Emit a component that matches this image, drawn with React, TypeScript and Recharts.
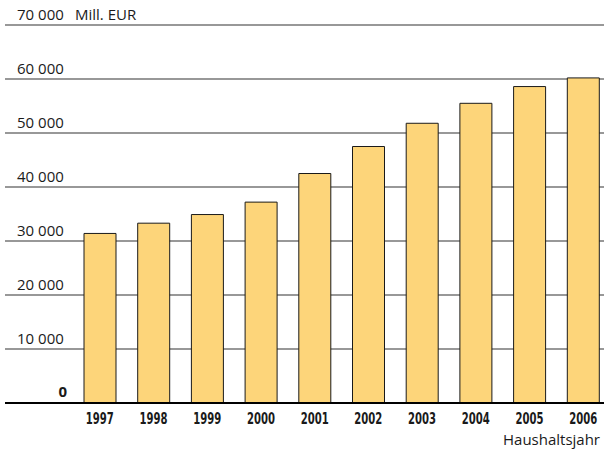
import React from 'react';
import { BarChart, Bar, XAxis, YAxis, CartesianGrid, Label } from 'recharts';

const years = ['1997', '1998', '1999', '2000', '2001', '2002', '2003', '2004', '2005', '2006'];
const spending = [31400, 33300, 34900, 37200, 42500, 47500, 51800, 55500, 58600, 60200];
const yTicks = [0, 10000, 20000, 30000, 40000, 50000, 60000, 70000];
const unitLabel = 'Mill. EUR';
const xAxisTitle = 'Haushaltsjahr';

const data = years.map((y, i) => ({ year: y, value: spending[i] }));

const fmt = (v: number) => {
  if (v === 0) return '0';
  const s = String(v);
  return s.slice(0, s.length - 3) + ' ' + s.slice(s.length - 3);
};

const YTick = (props: any) => {
  const { y, payload } = props;
  const v = payload.value as number;
  if (v === 0) {
    return (
      <text x={67} y={y - 6} textAnchor="end" fontFamily="Open Sans" fontWeight={700} fontSize={15} fill="#1a1a1a">
        0
      </text>
    );
  }
  return (
    <g>
      <text x={17} y={y - 5} textAnchor="start" fontFamily="Open Sans" fontSize={15} fill="#1a1a1a">
        {fmt(v)}
      </text>
      {v === 70000 && (
        <text x={75} y={y - 5} textAnchor="start" fontFamily="Open Sans" fontSize={15} fill="#1a1a1a">
          {unitLabel}
        </text>
      )}
    </g>
  );
};

const XTick = (props: any) => {
  const { x, payload } = props;
  return (
    <text
      x={x}
      y={424}
      textAnchor="middle"
      fontFamily="'DejaVu Sans Condensed', 'DejaVu Sans', sans-serif"
      fontWeight={700}
      fontSize={15.5}
      textLength={28}
      lengthAdjust="spacingAndGlyphs"
      fill="#1a1a1a"
    >
      {payload.value}
    </text>
  );
};

export default function App() {
  return (
    <div style={{ position: 'absolute', left: 0, top: 0, width: 604, height: 449, overflow: 'hidden', background: '#fff' }}>
      <BarChart width={610} height={449} data={data} margin={{ top: 25, right: 0, bottom: 0, left: 4 }}>
        <CartesianGrid horizontal vertical={false} stroke="#767676" strokeWidth={1.6} />
        <YAxis
          width={1}
          domain={[0, 70000]}
          ticks={yTicks}
          axisLine={false}
          tickLine={false}
          tick={<YTick />}
          interval={0}
        />
        <XAxis
          dataKey="year"
          height={46}
          padding={{ left: 68, right: 0 }}
          axisLine={{ stroke: '#000', strokeWidth: 2 }}
          tickLine={false}
          tick={<XTick />}
          interval={0}
        >
          <Label
            content={() => (
              <text x={600} y={445} textAnchor="end" fontFamily="Open Sans" fontSize={15} fill="#1a1a1a">
                {xAxisTitle}
              </text>
            )}
          />
        </XAxis>
        <Bar dataKey="value" fill="#FDD57A" stroke="#1a1a1a" strokeWidth={1} barSize={32} isAnimationActive={false} />
      </BarChart>
    </div>
  );
}
